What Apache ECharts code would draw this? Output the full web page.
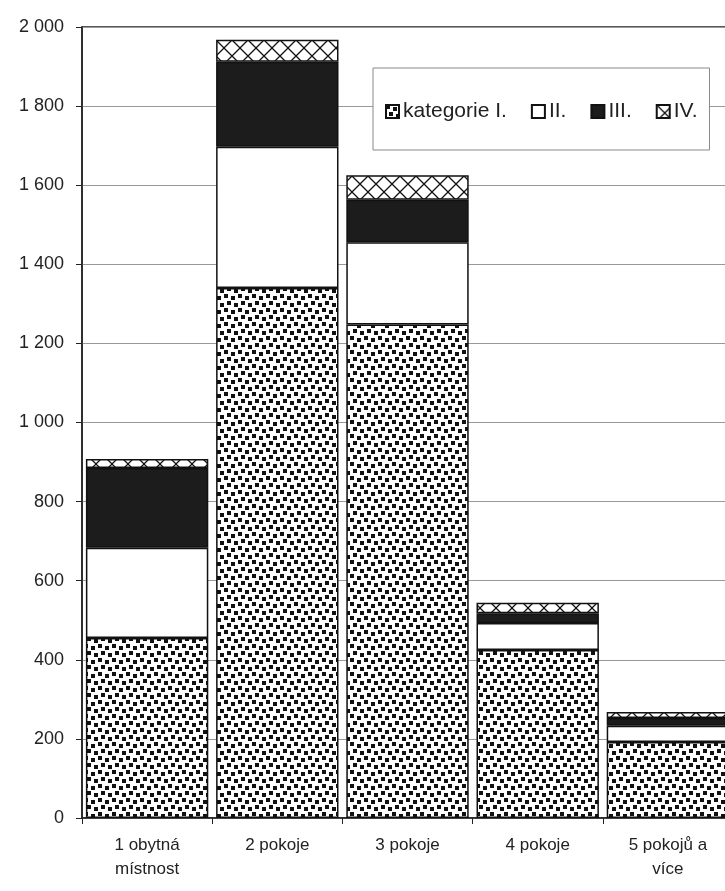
<!DOCTYPE html>
<html>
<head>
<meta charset="utf-8">
<script src="https://cdn.jsdelivr.net/npm/echarts@6/dist/echarts.min.js"></script>
<style>
  html, body { margin: 0; padding: 0; background: #fff; }
  #chart { width: 725px; height: 891px; }
</style>
</head>
<body>
<div id="chart"></div>
<script>
const categories = ['1 obytná\nmístnost', '2 pokoje', '3 pokoje', '4 pokoje', '5 pokojů a\nvíce']
const seriesNames = ['kategorie I.', 'II.', 'III.', 'IV.']
const katI = [455, 1340, 1248, 425, 192]
const katII = [228, 357, 208, 68, 41]
const katIII = [202, 215, 107, 25, 20]
const katIV = [23, 56, 62, 26, 15]

const FONT = '"Liberation Sans", Arial, sans-serif'

// pattern tiles
function dotTile() {
  const c = document.createElement('canvas')
  c.width = 14; c.height = 14
  const g = c.getContext('2d')
  g.fillStyle = '#fff'; g.fillRect(0, 0, 14, 14)
  g.fillStyle = '#111'
  ;[[0, 0], [7, 2], [3, 7], [10, 9]].forEach(p => g.fillRect(p[0], p[1], 4, 4))
  return c
}

function crossTile() {
  const c = document.createElement('canvas')
  c.width = 16; c.height = 16
  const g = c.getContext('2d')
  g.fillStyle = '#fff'; g.fillRect(0, 0, 16, 16)
  g.strokeStyle = '#111'
  g.lineWidth = 1.3
  g.beginPath()
  g.moveTo(-1, -1); g.lineTo(17, 17)
  g.moveTo(17, -1); g.lineTo(-1, 17)
  g.stroke()
  return c
}

const fills = [
  { image: dotTile(), repeat: 'repeat' },
  '#ffffff',
  '#1c1c1c',
  { image: crossTile(), repeat: 'repeat' },
]
const values = [katI, katII, katIII, katIV]

const chart = echarts.init(document.getElementById('chart'))

const option = {
  animation: false,
  backgroundColor: '#fff',
  textStyle: { fontFamily: FONT },
  grid: {
    left: 82,
    top: 27,
    bottom: 73,
    width: 651,
    outerBoundsMode: 'none',
    show: true,
    borderColor: '#222',
    borderWidth: 1.5,
  },
  legend: {
    left: 373,
    top: 68,
    padding: [33, 12, 28, 12],
    backgroundColor: '#fff',
    borderColor: '#888',
    borderWidth: 1,
    icon: 'rect',
    itemWidth: 13,
    itemHeight: 13,
    itemGap: 24,
    textStyle: { fontSize: 21, color: '#222', fontFamily: FONT, padding: [0, 0, 0, -1] },
    data: seriesNames,
  },
  xAxis: {
    type: 'category',
    data: categories,
    axisLine: { lineStyle: { color: '#222', width: 1.5 } },
    axisTick: { show: true, length: 6, lineStyle: { color: '#222' } },
    axisLabel: { fontSize: 17, color: '#222', lineHeight: 24, margin: 15, fontFamily: FONT },
  },
  yAxis: {
    type: 'value',
    min: 0,
    max: 2000,
    interval: 200,
    axisLine: { show: true, lineStyle: { color: '#222', width: 1.5 } },
    axisTick: { show: true, length: 6, lineStyle: { color: '#222' } },
    splitLine: { lineStyle: { color: '#999', width: 1 } },
    axisLabel: {
      fontSize: 18,
      color: '#222',
      margin: 18,
      fontFamily: FONT,
      formatter: v => String(v).replace(/\B(?=(\d{3})+(?!\d))/g, ' '),
    },
  },
  series: seriesNames.map((name, i) => ({
    name: name,
    type: 'bar',
    stack: 'byty',
    barCategoryGap: '6%',
    data: values[i],
    itemStyle: {
      color: fills[i],
      borderColor: '#111',
      borderWidth: 1.5,
    },
  })),
}

chart.setOption(option)
</script>
</body>
</html>
